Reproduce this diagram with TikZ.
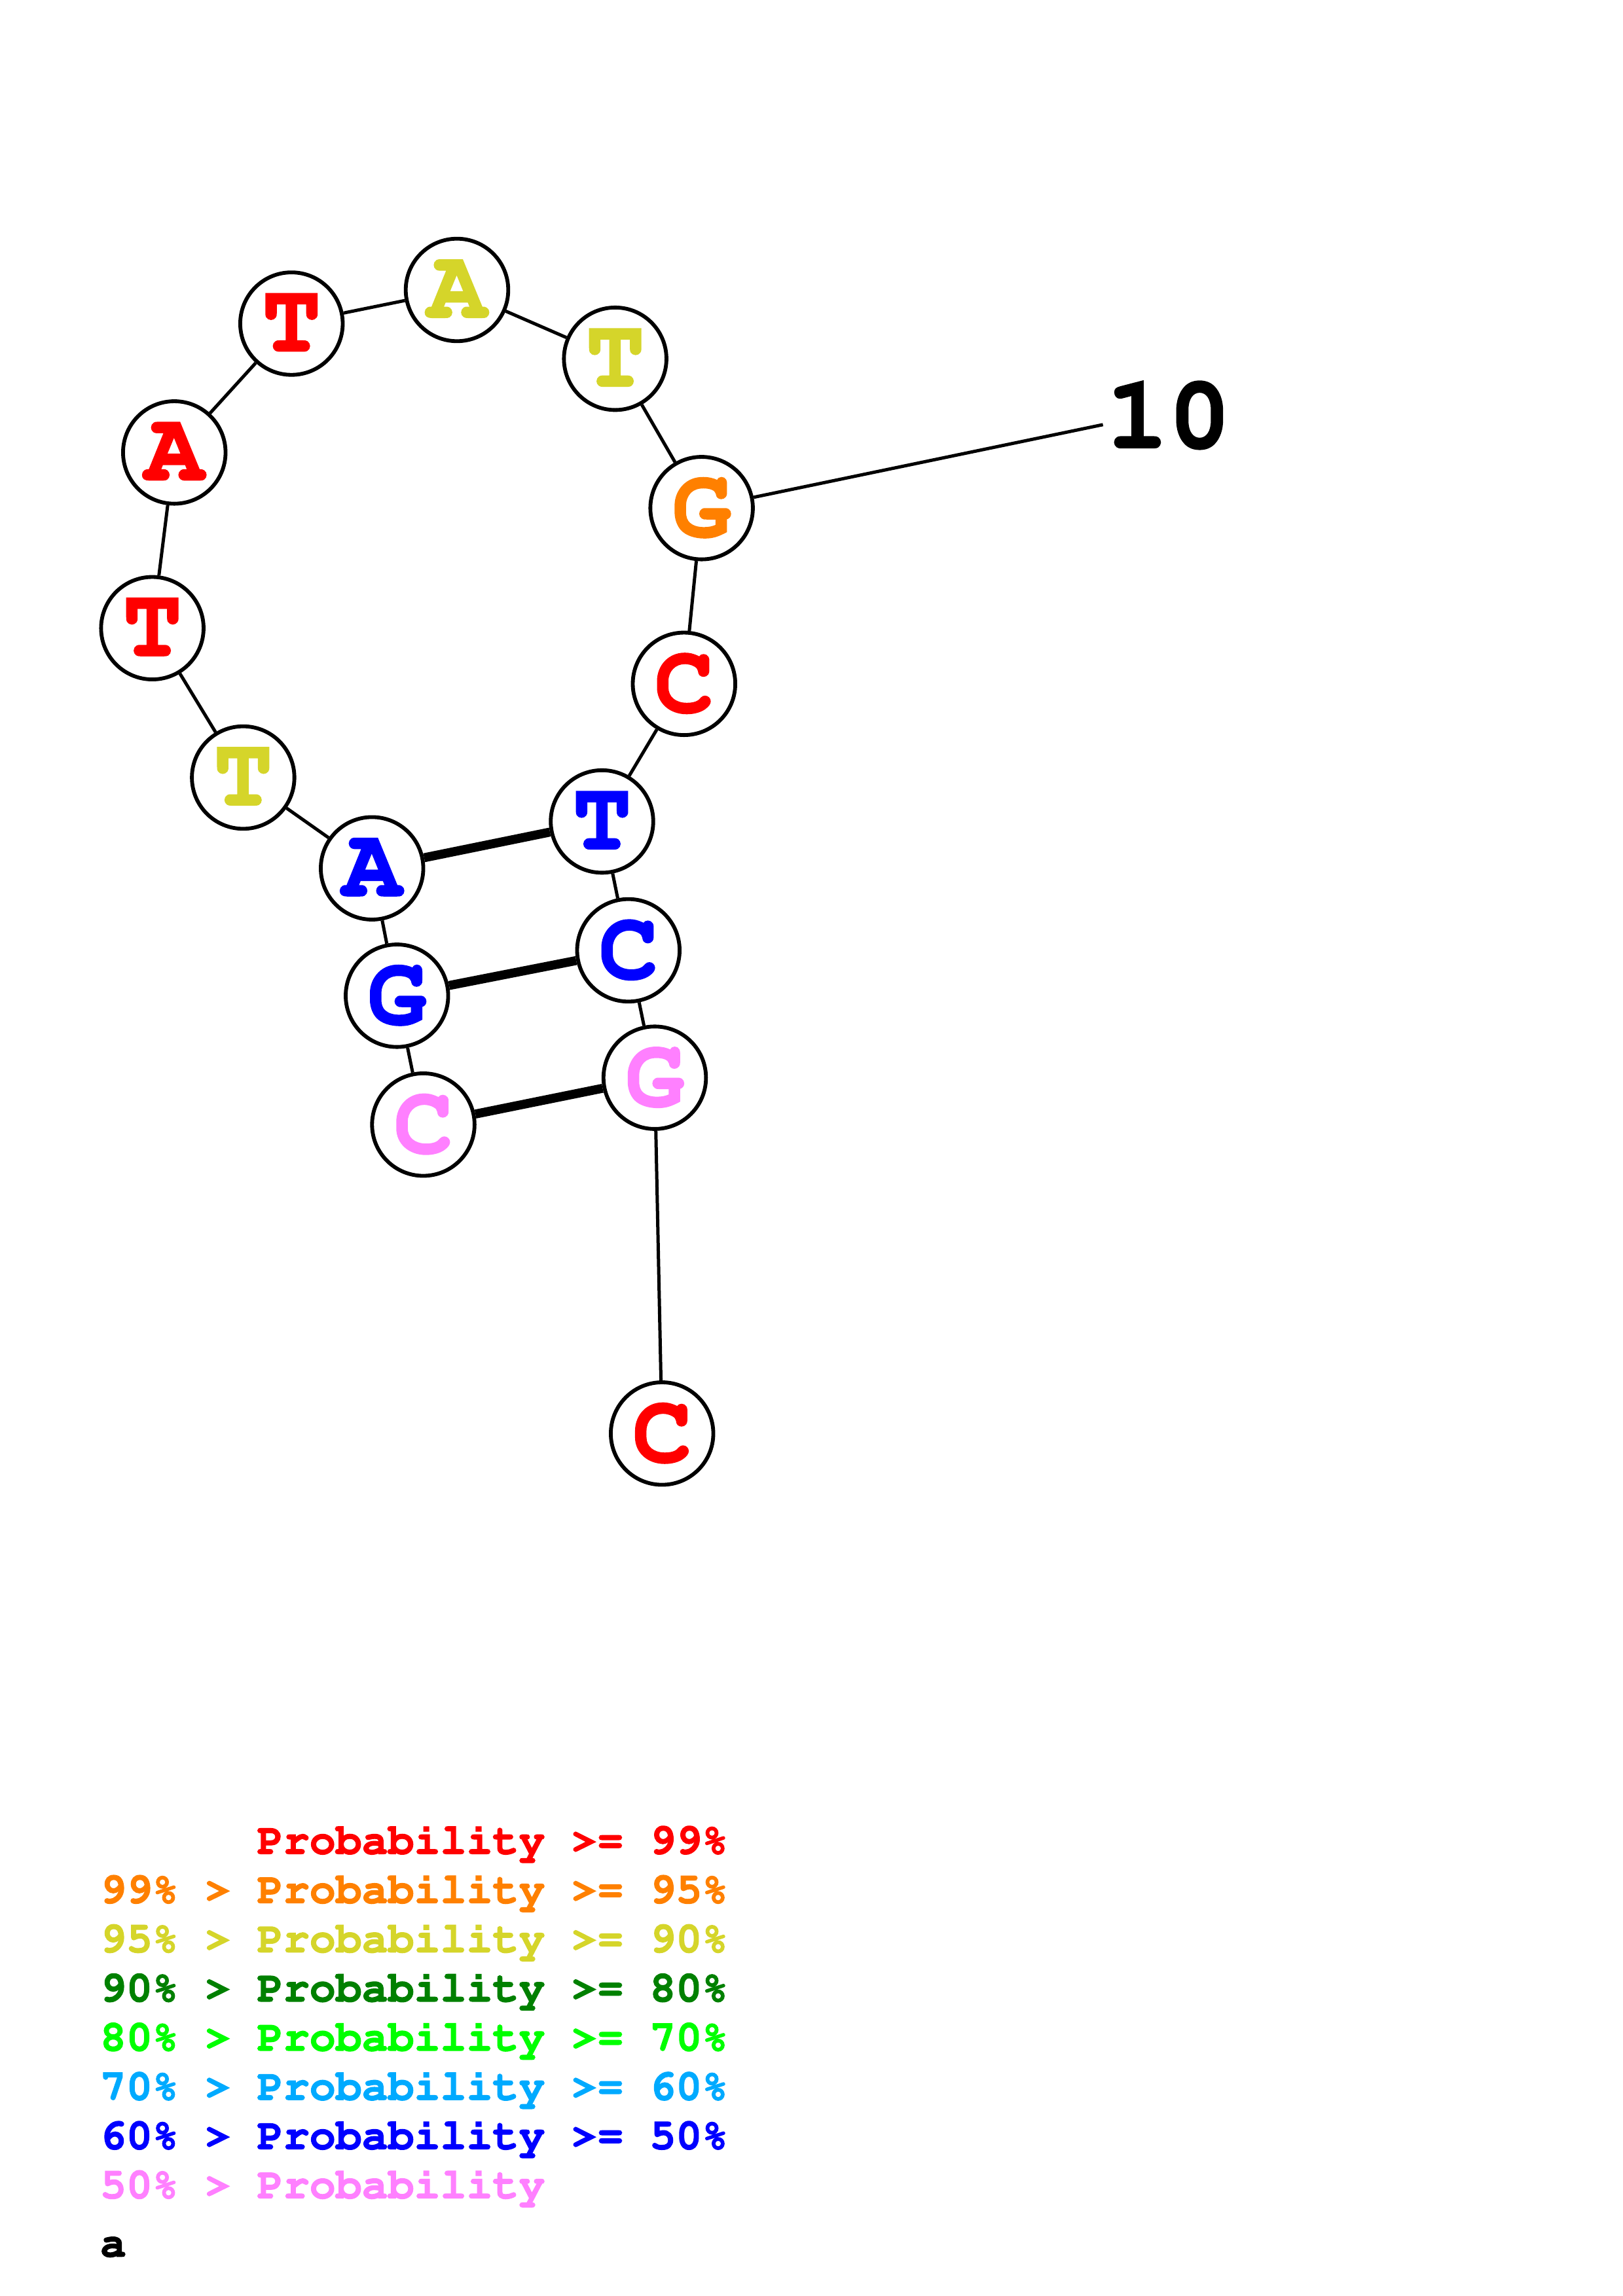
\documentclass[tikz,border=0pt]{standalone}
\newcommand\courb{\fontencoding{T1}\fontfamily{pcr}\fontseries{b}\selectfont}
\newcommand\heavy[2]{\special{pdf:literal direct #1 w 2 Tr}#2\special{pdf:literal direct 0 Tr}}
\definecolor{cR}{RGB}{255,0,0}
\definecolor{cO}{RGB}{255,128,0}
\definecolor{cY}{RGB}{213,213,42}
\definecolor{cDG}{RGB}{0,128,0}
\definecolor{cG}{RGB}{0,255,0}
\definecolor{cLB}{RGB}{0,170,255}
\definecolor{cB}{RGB}{0,0,255}
\definecolor{cP}{RGB}{255,128,255}
\tikzset{
  nt/.style={circle,draw=black,line width=1.4pt,fill=white,minimum size=37.6pt,inner sep=0pt,
    font=\courb\fontsize{36}{36}\selectfont},
  bb/.style={line width=1.2pt},
  pair/.style={line width=3.3pt},
  leg/.style={anchor=base west,inner sep=0pt,font=\courb\fontsize{16}{16}\selectfont}
}
\begin{document}
\begin{tikzpicture}[x=0.5373pt,y=-0.5373pt]
\useasboundingbox (0,0) rectangle (1108,1568);
\node[nt,text=cP] (n1) at (289,768) {\heavy{0.6}{C}};
\node[nt,text=cB] (n2) at (271,680) {\heavy{0.6}{G}};
\node[nt,text=cB] (n3) at (254,593) {\heavy{0.6}{A}};
\node[nt,text=cY] (n4) at (166,531) {\heavy{0.6}{T}};
\node[nt,text=cR] (n5) at (104,429) {\heavy{0.6}{T}};
\node[nt,text=cR] (n6) at (119,309) {\heavy{0.6}{A}};
\node[nt,text=cR] (n7) at (199,221) {\heavy{0.6}{T}};
\node[nt,text=cY] (n8) at (312,198) {\heavy{0.6}{A}};
\node[nt,text=cY] (n9) at (420,245) {\heavy{0.6}{T}};
\node[nt,text=cO] (n10) at (479,347) {\heavy{0.6}{G}};
\node[nt,text=cR] (n11) at (467,467) {\heavy{0.6}{C}};
\node[nt,text=cB] (n12) at (411,561) {\heavy{0.6}{T}};
\node[nt,text=cB] (n13) at (429,649) {\heavy{0.6}{C}};
\node[nt,text=cP] (n14) at (447,736) {\heavy{0.6}{G}};
\node[nt,text=cR] (n15) at (452,979) {\heavy{0.6}{C}};
\foreach \a/\b in {n1/n2,n2/n3,n3/n4,n4/n5,n5/n6,n6/n7,n7/n8,n8/n9,n9/n10,n10/n11,n11/n12,n12/n13,n13/n14,n14/n15}
  \draw[bb] (\a) -- (\b);
\draw[pair] (n3) -- (n12);
\draw[pair] (n2) -- (n13);
\draw[pair] (n1) -- (n14);
\node[anchor=west,inner sep=0pt,font=\courb\fontsize{38}{38}\selectfont] (lab) at (755,284) {\heavy{0.7}{10}};
\coordinate (labend) at (753,290);
\draw[bb] (n10) -- (labend);
\node[leg,text=cR] (l1) at (68,1266) {\hphantom{99\% > }\heavy{0.3}{Probability >= 99\%}};
\node[leg,text=cO] (l2) at (68,1299.6) {\heavy{0.3}{99\% > Probability >= 95\%}};
\node[leg,text=cY] (l3) at (68,1333.2) {\heavy{0.3}{95\% > Probability >= 90\%}};
\node[leg,text=cDG] (l4) at (68,1366.8) {\heavy{0.3}{90\% > Probability >= 80\%}};
\node[leg,text=cG] (l5) at (68,1400.4) {\heavy{0.3}{80\% > Probability >= 70\%}};
\node[leg,text=cLB] (l6) at (68,1434) {\heavy{0.3}{70\% > Probability >= 60\%}};
\node[leg,text=cB] (l7) at (68,1467.6) {\heavy{0.3}{60\% > Probability >= 50\%}};
\node[leg,text=cP] (l8) at (68,1501.2) {\heavy{0.3}{50\% > Probability}};
\node[leg,text=black] (la) at (68,1541) {\heavy{0.3}{a}};
\end{tikzpicture}
\end{document}
